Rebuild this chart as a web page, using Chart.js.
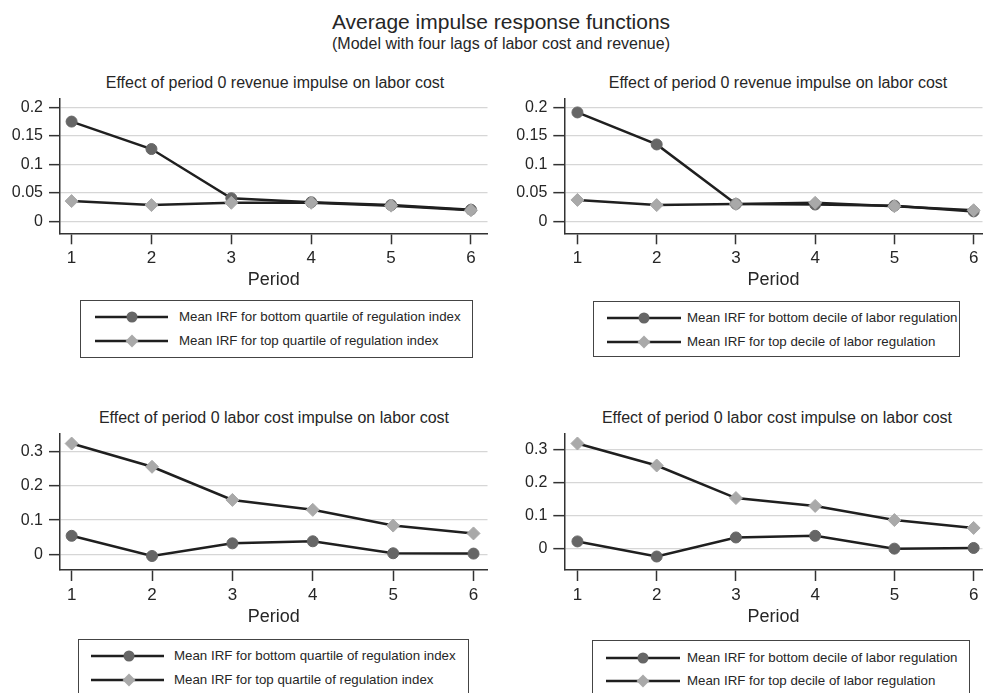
<!DOCTYPE html>
<html>
<head>
<meta charset="utf-8">
<title>Average impulse response functions</title>
<script src="https://cdn.jsdelivr.net/npm/chart.js@4.4.1/dist/chart.umd.min.js"></script>
<style>
  body { margin: 0; background: #fff; }
  #page {
    position: relative; width: 990px; height: 693px; overflow: hidden;
    background: #fff; color: #262626;
    font-family: "Liberation Sans", Arial, sans-serif;
  }
  .txt { position: absolute; white-space: nowrap; line-height: 1; transform: translateX(-50%); }
  canvas { position: absolute; }
  .legend { position: absolute; border: 1px solid #444; box-sizing: border-box; background: #fff; }
  .legend svg { position: absolute; left: 0; }
  .legend span { position: absolute; white-space: nowrap; line-height: 1; font-size: 13.3px; }
</style>
</head>
<body>
<div id="page">
  <div class="txt" style="left:501px; top:11px; font-size:21px;">Average impulse response functions</div>
  <div class="txt" style="left:501px; top:35.5px; font-size:16px;">(Model with four lags of labor cost and revenue)</div>
</div>

<script>
// Data
const periods = [1, 2, 3, 4, 5, 6];

// Revenue impulse -> labor cost
const revQuartileBottom = [0.175, 0.127, 0.041, 0.034, 0.029, 0.021];
const revQuartileTop    = [0.036, 0.029, 0.033, 0.033, 0.028, 0.020];
const revDecileBottom   = [0.191, 0.135, 0.031, 0.030, 0.028, 0.018];
const revDecileTop      = [0.038, 0.029, 0.031, 0.033, 0.027, 0.020];

// Labor cost impulse -> labor cost
const costQuartileBottom = [0.054, -0.005, 0.032, 0.038, 0.003, 0.002];
const costQuartileTop    = [0.324, 0.256, 0.159, 0.130, 0.084, 0.061];
const costDecileBottom   = [0.022, -0.024, 0.034, 0.039, 0.000, 0.002];
const costDecileTop      = [0.320, 0.253, 0.154, 0.130, 0.087, 0.063];

// Tick labels
const yTicksRevenue = [0, 0.05, 0.1, 0.15, 0.2];
const yTicksCost = [0, 0.1, 0.2, 0.3];

// Text
const titleRevenue = 'Effect of period 0 revenue impulse on labor cost';
const titleCost = 'Effect of period 0 labor cost impulse on labor cost';
const quartileLabels = ['Mean IRF for bottom quartile of regulation index', 'Mean IRF for top quartile of regulation index'];
const decileLabels = ['Mean IRF for bottom decile of labor regulation', 'Mean IRF for top decile of labor regulation'];

const FONT = '"Liberation Sans", Arial, sans-serif';
const TEXT_COLOR = '#262626';
const LINE_COLOR = '#1f1f1f';
const CIRCLE_COLOR = '#666666';
const DIAMOND_COLOR = '#a9a9a9';

// Panel layout (positions in page pixels)
const panels = [
    {
        title: titleRevenue, bottom: revQuartileBottom, top: revQuartileTop, labels: quartileLabels, yTicks: yTicksRevenue,
        xMin: 0.855, xMax: 6.207, yMin: -0.0203, yMax: 0.2157,
        box: { left: 0, top: 88, width: 495, height: 205 }, yAxisW: 60, padTop: 10.3, padRight: 3.3, xAxisH: 59.7,
        titleAt: { x: 275, y: 75 },
        legend: { left: 80, top: 300, width: 393, height: 58, lineX0: 14, lineX1: 87, markX: 51, textX: 98, rows: [16, 40] }
    },
    {
        title: titleRevenue, bottom: revDecileBottom, top: revDecileTop, labels: decileLabels, yTicks: yTicksRevenue,
        xMin: 0.834, xMax: 6.112, yMin: -0.0203, yMax: 0.2157,
        box: { left: 495, top: 88, width: 495, height: 205 }, yAxisW: 69.3, padTop: 10.3, padRight: 0, xAxisH: 59.7,
        titleAt: { x: 778, y: 75 },
        legend: { left: 593, top: 301, width: 367, height: 56, lineX0: 13, lineX1: 87, markX: 50, textX: 93, rows: [16, 40] }
    },
    {
        title: titleCost, bottom: costQuartileBottom, top: costQuartileTop, labels: quartileLabels, yTicks: yTicksCost,
        xMin: 0.855, xMax: 6.174, yMin: -0.046, yMax: 0.354,
        box: { left: 0, top: 423, width: 495, height: 207 }, yAxisW: 60, padTop: 10.3, padRight: 6, xAxisH: 60,
        titleAt: { x: 274, y: 410 },
        legend: { left: 78, top: 639, width: 391, height: 70, lineX0: 12, lineX1: 85, markX: 50, textX: 95, rows: [16, 39.5] }
    },
    {
        title: titleCost, bottom: costDecileBottom, top: costDecileTop, labels: decileLabels, yTicks: yTicksCost,
        xMin: 0.834, xMax: 6.112, yMin: -0.065, yMax: 0.351,
        box: { left: 495, top: 423, width: 495, height: 207 }, yAxisW: 69.3, padTop: 10.3, padRight: 0, xAxisH: 60,
        titleAt: { x: 777, y: 410 },
        legend: { left: 592, top: 640, width: 378, height: 70, lineX0: 13, lineX1: 87, markX: 50, textX: 94, rows: [16.5, 40] }
    }
];

const page = document.getElementById('page');

function toPoints(values) {
    return periods.map((p, i) => ({ x: p, y: values[i] }));
}

function makePanel(p) {
    // Panel title
    const t = document.createElement('div');
    t.className = 'txt';
    t.style.left = p.titleAt.x + 'px';
    t.style.top = p.titleAt.y + 'px';
    t.style.fontSize = '16px';
    t.textContent = p.title;
    page.appendChild(t);

    const canvas = document.createElement('canvas');
    canvas.width = p.box.width;
    canvas.height = p.box.height;
    canvas.style.left = p.box.left + 'px';
    canvas.style.top = p.box.top + 'px';
    page.appendChild(canvas);

    const chart = new Chart(canvas.getContext('2d'), {
        type: 'line',
        data: {
            datasets: [{
                label: p.labels[0],
                data: toPoints(p.bottom),
                borderColor: LINE_COLOR,
                borderWidth: 2.5,
                pointStyle: 'circle',
                pointRadius: 5.5,
                pointBackgroundColor: CIRCLE_COLOR,
                pointBorderColor: CIRCLE_COLOR,
                pointBorderWidth: 1,
                order: 2
            }, {
                label: p.labels[1],
                data: toPoints(p.top),
                borderColor: LINE_COLOR,
                borderWidth: 2.5,
                pointStyle: 'rectRot',
                pointRadius: 6.5,
                pointBackgroundColor: DIAMOND_COLOR,
                pointBorderColor: DIAMOND_COLOR,
                pointBorderWidth: 1,
                order: 1
            }]
        },
        options: {
            responsive: false,
            animation: false,
            clip: false,
            layout: { padding: { top: p.padTop, right: p.padRight, left: 0, bottom: 0 } },
            plugins: {
                legend: { display: false },
                tooltip: { enabled: false },
                title: { display: false }
            },
            scales: {
                x: {
                    type: 'linear',
                    min: p.xMin,
                    max: p.xMax,
                    afterBuildTicks: s => { s.ticks = periods.map(v => ({ value: v })); },
                    afterFit: s => {
                        s.height = p.xAxisH;
                        s.paddingLeft = 0; s.paddingRight = 0;
                    },
                    grid: { drawOnChartArea: false, drawTicks: true, tickLength: 11, tickColor: '#333', tickWidth: 1.5 },
                    border: { display: true, color: '#333', width: 1.5 },
                    ticks: { color: TEXT_COLOR, font: { family: FONT, size: 17 }, padding: 4, maxRotation: 0, autoSkip: false },
                    title: { display: true, text: 'Period', color: TEXT_COLOR, font: { family: FONT, size: 18 }, padding: { top: 0, bottom: 2 } }
                },
                y: {
                    min: p.yMin,
                    max: p.yMax,
                    afterBuildTicks: s => { s.ticks = p.yTicks.map(v => ({ value: v })); },
                    afterFit: s => {
                        s.width = p.yAxisW;
                        s.paddingTop = 0; s.paddingBottom = 0;
                    },
                    grid: { color: '#d6d6d6', lineWidth: 1.3, drawTicks: true, tickLength: 11, tickColor: '#333', tickWidth: 1.5 },
                    border: { display: true, color: '#333', width: 1.5 },
                    ticks: { color: TEXT_COLOR, font: { family: FONT, size: 16 }, padding: 6, callback: v => String(v) }
                }
            }
        }
    });

    buildLegend(chart, p.legend);
}

// HTML legend built from the chart's datasets
function buildLegend(chart, lg) {
    const box = document.createElement('div');
    box.className = 'legend';
    box.style.left = lg.left + 'px';
    box.style.top = lg.top + 'px';
    box.style.width = lg.width + 'px';
    box.style.height = lg.height + 'px';

    chart.data.datasets.forEach((ds, i) => {
        const rowY = lg.rows[i];
        const ns = 'http://www.w3.org/2000/svg';
        const svg = document.createElementNS(ns, 'svg');
        svg.setAttribute('width', lg.textX);
        svg.setAttribute('height', 20);
        svg.style.top = (rowY - 10) + 'px';

        const line = document.createElementNS(ns, 'line');
        line.setAttribute('x1', lg.lineX0);
        line.setAttribute('x2', lg.lineX1);
        line.setAttribute('y1', 10);
        line.setAttribute('y2', 10);
        line.setAttribute('stroke', ds.borderColor);
        line.setAttribute('stroke-width', ds.borderWidth);
        svg.appendChild(line);

        let mark;
        const r = ds.pointRadius;
        if (ds.pointStyle === 'circle') {
            mark = document.createElementNS(ns, 'circle');
            mark.setAttribute('cx', lg.markX);
            mark.setAttribute('cy', 10);
            mark.setAttribute('r', r);
        } else {
            mark = document.createElementNS(ns, 'polygon');
            const cx = lg.markX;
            mark.setAttribute('points', `${cx - r},10 ${cx},${10 - r} ${cx + r},10 ${cx},${10 + r}`);
        }
        mark.setAttribute('fill', ds.pointBackgroundColor);
        svg.appendChild(mark);
        box.appendChild(svg);

        const span = document.createElement('span');
        span.style.left = lg.textX + 'px';
        span.style.top = (rowY - 7) + 'px';
        span.textContent = ds.label;
        box.appendChild(span);
    });

    page.appendChild(box);
}

panels.forEach(makePanel);
</script>
</body>
</html>
